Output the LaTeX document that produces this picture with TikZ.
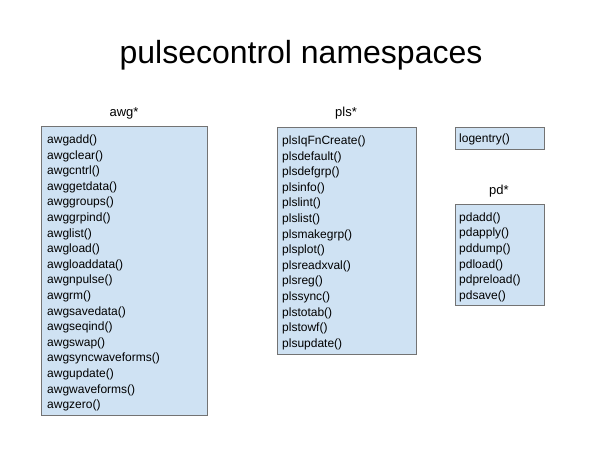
\documentclass[tikz,border=0pt]{standalone}
\usepackage{fontspec}
\setmainfont{Liberation Sans}
\definecolor{boxfill}{HTML}{CFE2F3}
\definecolor{boxline}{HTML}{737373}
\begin{document}
\begin{tikzpicture}[x=1pt,y=-1pt,
  nsbox/.style={draw=boxline, fill=boxfill, line width=1.4pt, rectangle, inner sep=0pt, anchor=north west},
  nslist/.style={anchor=north west, inner sep=0pt, align=left, font=\fontsize{12}{15.6}\selectfont},
  nshead/.style={inner sep=0pt, font=\fontsize{13}{15}\selectfont},
  titletext/.style={inner sep=0pt, font=\fontsize{32}{36}\selectfont}]
\useasboundingbox (0,0) rectangle (600,450);
\node[titletext] (title) at (301,55) {pulsecontrol namespaces};
% awg
\node[nshead] (awghead) at (124,113) {awg*};
\node[nsbox, minimum width=166pt, minimum height=289pt] (awgbox) at (41,126) {};
\node[nslist] (awglist) at (47,134.5) {awgadd()\\awgclear()\\awgcntrl()\\awggetdata()\\awggroups()\\awggrpind()\\awglist()\\awgload()\\awgloaddata()\\awgnpulse()\\awgrm()\\awgsavedata()\\awgseqind()\\awgswap()\\awgsyncwaveforms()\\awgupdate()\\awgwaveforms()\\awgzero()};
% pls
\node[nshead] (plshead) at (346,113) {pls*};
\node[nsbox, minimum width=139pt, minimum height=227pt] (plsbox) at (277,127) {};
\node[nslist] (plslist) at (282,135.5) {plsIqFnCreate()\\plsdefault()\\plsdefgrp()\\plsinfo()\\plslint()\\plslist()\\plsmakegrp()\\plsplot()\\plsreadxval()\\plsreg()\\plssync()\\plstotab()\\plstowf()\\plsupdate()};
% logentry
\node[nsbox, minimum width=89pt, minimum height=22pt] (logbox) at (455,127) {};
\node[nslist] (loglist) at (459,133.5) {logentry()};
% pd
\node[nshead] (pdhead) at (499,191) {pd*};
\node[nsbox, minimum width=89pt, minimum height=101pt] (pdbox) at (455,204) {};
\node[nslist] (pdlist) at (459,212.5) {pdadd()\\pdapply()\\pddump()\\pdload()\\pdpreload()\\pdsave()};
\end{tikzpicture}
\end{document}
